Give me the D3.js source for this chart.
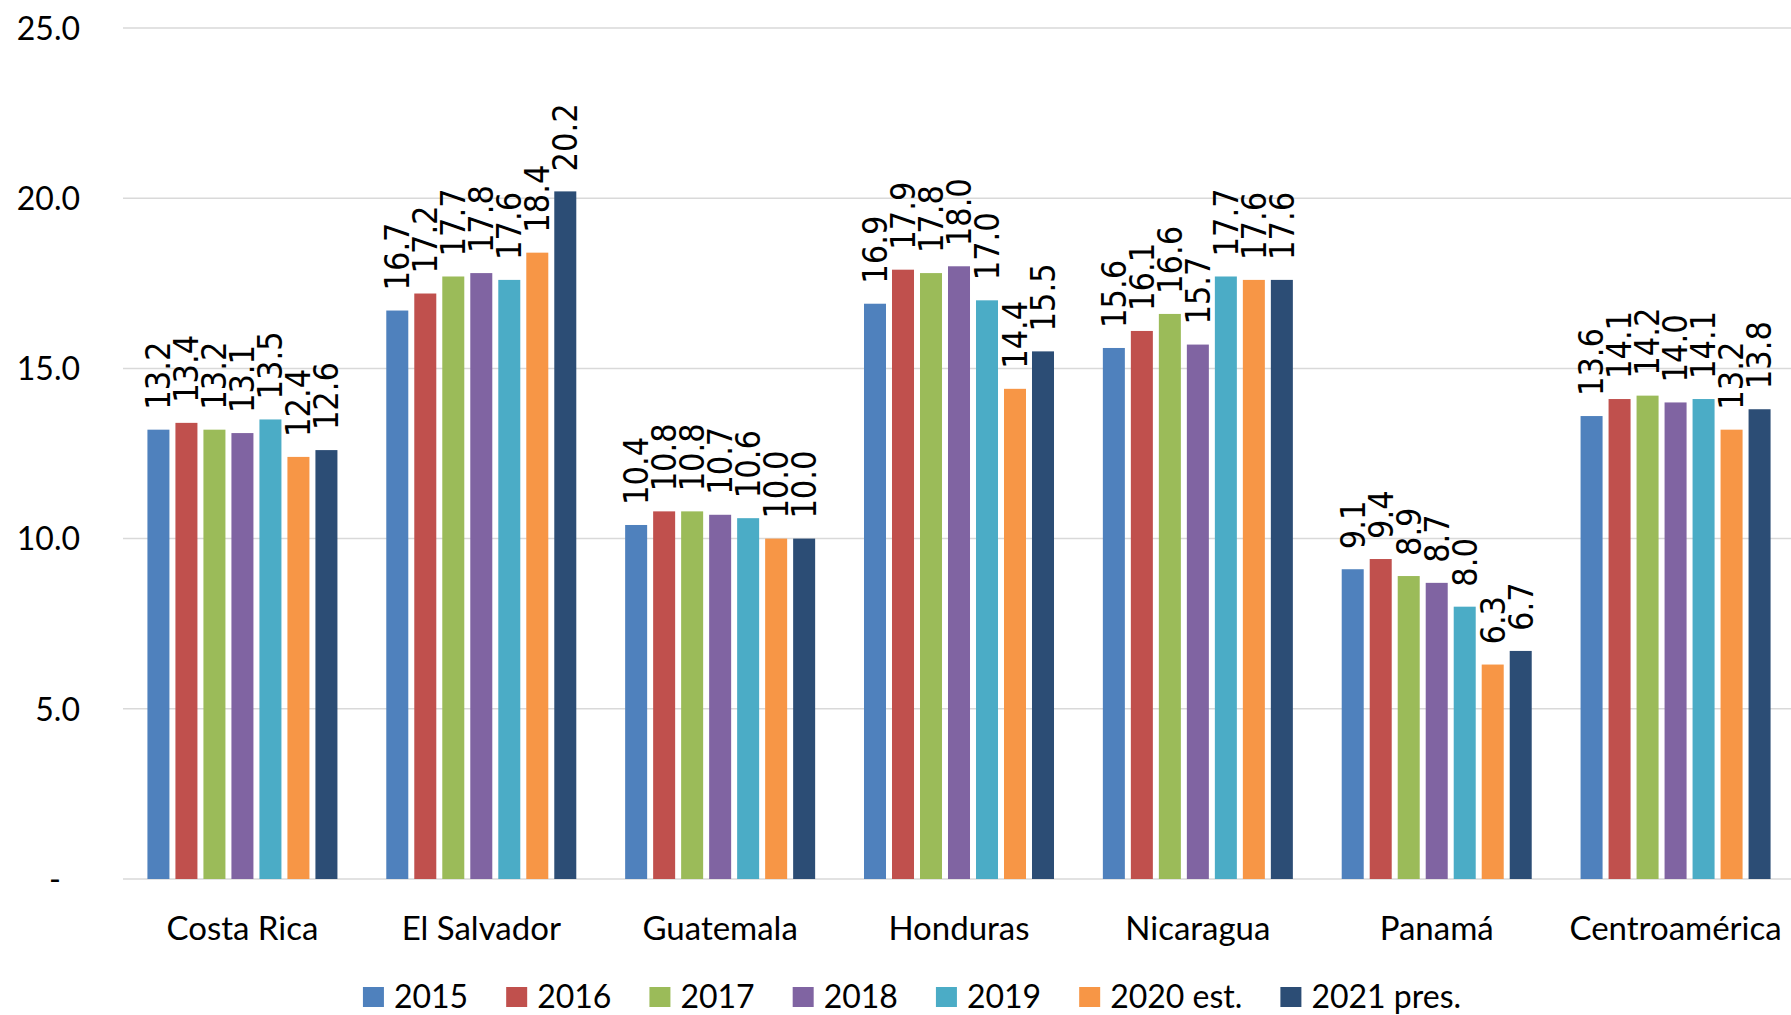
<!DOCTYPE html>
<html>
<head>
<meta charset="utf-8">
<script src="https://cdn.jsdelivr.net/npm/d3@7"></script>
<style>
  html, body { margin: 0; padding: 0; background: #fff; }
  svg { display: block; }
</style>
</head>
<body>
<svg id="chart" width="1791" height="1015"></svg>
<script>
const categories = ["Costa Rica", "El Salvador", "Guatemala", "Honduras", "Nicaragua", "Panamá", "Centroamérica"];
const seriesNames = ["2015", "2016", "2017", "2018", "2019", "2020 est.", "2021 pres."];
const seriesColors = ["#4F81BD", "#C0504D", "#9BBB59", "#8064A2", "#4BACC6", "#F79646", "#2C4D75"];
const values2015 = [13.2, 16.7, 10.4, 16.9, 15.6, 9.1, 13.6];
const values2016 = [13.4, 17.2, 10.8, 17.9, 16.1, 9.4, 14.1];
const values2017 = [13.2, 17.7, 10.8, 17.8, 16.6, 8.9, 14.2];
const values2018 = [13.1, 17.8, 10.7, 18.0, 15.7, 8.7, 14.0];
const values2019 = [13.5, 17.6, 10.6, 17.0, 17.7, 8.0, 14.1];
const values2020 = [12.4, 18.4, 10.0, 14.4, 17.6, 6.3, 13.2];
const values2021 = [12.6, 20.2, 10.0, 15.5, 17.6, 6.7, 13.8];
const yTicks = [0, 5, 10, 15, 20, 25];

const seriesValues = [values2015, values2016, values2017, values2018, values2019, values2020, values2021];

const svg = d3.select("#chart");
const plotLeft = 123, plotRight = 1795, plotTop = 28, plotBottom = 879;

const y = d3.scaleLinear().domain([0, 25]).range([plotBottom, plotTop]);
const x0 = d3.scaleBand().domain(categories).range([plotLeft, plotRight]).padding(0);
const x1 = d3.scaleBand().domain(seriesNames).range([-98, 98]).paddingInner(0.214).paddingOuter(0.107);

// gridlines
svg.append("g").selectAll("line").data(yTicks).join("line")
  .attr("x1", plotLeft).attr("x2", plotRight)
  .attr("y1", d => y(d)).attr("y2", d => y(d))
  .attr("stroke", "#D9D9D9").attr("stroke-width", 1.5);

// y axis labels
const yAxis = d3.axisLeft(y).tickValues(yTicks).tickSize(0)
  .tickFormat(d => d === 0 ? "-" : d3.format(".1f")(d));
const yg = svg.append("g").attr("transform", "translate(80,0)").call(yAxis);
yg.select(".domain").remove();
yg.selectAll("text")
  .attr("x", 0).attr("dy", "0.35em")
  .style("font-family", "Lato, 'Open Sans', sans-serif")
  .style("font-size", "32px").attr("fill", "#000")
  .attr("dx", d => d === 0 ? -19 : 0);

// bars
const groups = svg.append("g").selectAll("g").data(categories).join("g")
  .attr("transform", c => `translate(${x0(c) + x0.bandwidth() / 2},0)`);

groups.each(function(c, ci) {
  const g = d3.select(this);
  const data = seriesNames.map((s, si) => ({ s, si, v: seriesValues[si][ci] }));
  g.selectAll("rect").data(data).join("rect")
    .attr("x", d => x1(d.s))
    .attr("width", x1.bandwidth())
    .attr("y", d => y(d.v))
    .attr("height", d => y(0) - y(d.v))
    .attr("fill", d => seriesColors[d.si]);
  g.selectAll("text").data(data).join("text")
    .attr("transform", d => `translate(${x1(d.s) + x1.bandwidth() / 2},${y(d.v) - 20}) rotate(-90)`)
    .attr("dy", "0.35em")
    .attr("text-anchor", "start")
    .style("font-family", "'DejaVu Sans Condensed', 'DejaVu Sans', sans-serif")
    .style("font-size", "34px")
    .attr("fill", "#000")
    .text(d => d3.format(".1f")(d.v));
});

// x axis labels
svg.append("g").selectAll("text").data(categories).join("text")
  .attr("x", c => x0(c) + x0.bandwidth() / 2)
  .attr("y", 940)
  .attr("text-anchor", "middle")
  .style("font-family", "Lato, 'Open Sans', sans-serif")
  .style("font-size", "33px")
  .attr("fill", "#000")
  .text(c => c);

// legend
const legend = svg.append("g");
const items = legend.selectAll("g").data(seriesNames).join("g");
items.append("rect").attr("width", 21).attr("height", 20).attr("y", -10)
  .attr("fill", (d, i) => seriesColors[i]);
items.append("text").attr("x", 31).attr("dy", "0.35em")
  .style("font-family", "Lato, 'Open Sans', sans-serif")
  .style("font-size", "32px").attr("fill", "#000")
  .text(d => d);
let cx = 0;
items.each(function() {
  const w = d3.select(this).select("text").node().getComputedTextLength();
  d3.select(this).attr("transform", `translate(${cx},0)`);
  cx += 31 + w + 38;
});
const totalW = cx - 38;
legend.attr("transform", `translate(${912 - totalW / 2},997)`);
</script>
</body>
</html>
